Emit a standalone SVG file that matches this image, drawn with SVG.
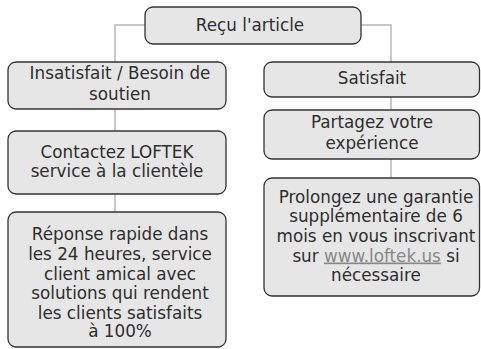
<svg xmlns="http://www.w3.org/2000/svg" width="481" height="349" viewBox="0 0 481 349">
<style>
.box{fill:#e6e6e6;stroke:#333;stroke-width:1.3}
.t{font-family:"DejaVu Sans",sans-serif;font-size:16.8px;fill:#2e2e2e;text-anchor:middle}
.c{fill:none;stroke:#b8b8b8;stroke-width:1.5}
.link{fill:#888;text-decoration:underline}
</style>
<rect width="481" height="349" fill="#fff"/>
<g id="connectors">
<path class="c" d="M145 25 H115 V62"/>
<path class="c" d="M361 25 H391 V62"/>
<path class="c" d="M115 109 V131"/>
<path class="c" d="M115 194 V212"/>
<path class="c" d="M391 97 V110"/>
<path class="c" d="M391 159 V178"/>
</g>
<g id="n-recu">
<rect class="box" x="145" y="7" width="216" height="37" rx="8"/>
<text class="t" x="250" y="30.5">Reçu l'article</text>
</g>
<g id="n-insatisfait">
<rect class="box" x="8" y="62" width="218" height="47" rx="8"/>
<text class="t" x="120" y="79">Insatisfait / Besoin de</text>
<text class="t" x="120" y="100">soutien</text>
</g>
<g id="n-satisfait">
<rect class="box" x="264" y="62" width="215.5" height="35" rx="8"/>
<text class="t" x="372" y="84">Satisfait</text>
</g>
<g id="n-contactez">
<rect class="box" x="8" y="131" width="218" height="63" rx="8"/>
<text class="t" x="117" y="158">Contactez LOFTEK</text>
<text class="t" x="117" y="177">service à la clientèle</text>
</g>
<g id="n-partagez">
<rect class="box" x="264" y="110" width="215.5" height="49" rx="8"/>
<text class="t" x="372" y="128">Partagez votre</text>
<text class="t" x="372" y="149">expérience</text>
</g>
<g id="n-reponse">
<rect class="box" x="8" y="212" width="218" height="135" rx="8"/>
<text class="t" x="120" y="240">Réponse rapide dans</text>
<text class="t" x="120" y="260">les 24 heures, service</text>
<text class="t" x="120" y="279.5">client amical avec</text>
<text class="t" x="120" y="299">solutions qui rendent</text>
<text class="t" x="120" y="319">les clients satisfaits</text>
<text class="t" x="120" y="337">à 100%</text>
</g>
<g id="n-prolongez">
<rect class="box" x="264" y="178" width="215.5" height="118" rx="8"/>
<text class="t" x="376" y="203">Prolongez une garantie</text>
<text class="t" x="376" y="222">supplémentaire de 6</text>
<text class="t" x="376" y="242">mois en vous inscrivant</text>
<text class="t" x="376" y="261.5">sur <tspan class="link">www.loftek.us</tspan> si</text>
<text class="t" x="376" y="280.5">nécessaire</text>
</g>
</svg>
